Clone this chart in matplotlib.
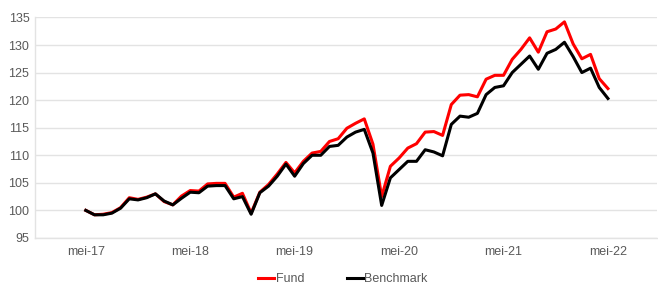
import matplotlib
matplotlib.use("Agg")
from matplotlib import pyplot as plt

plt.rcParams['font.family'] = ['Liberation Sans Narrow', 'Liberation Sans', 'DejaVu Sans']

# maandelijkse waarden, mei-17 t/m mei-22
fund = [100.0, 99.2, 99.3, 99.6, 100.5, 102.3, 102.0, 102.4, 103.0, 101.6,
        101.0, 102.6, 103.6, 103.5, 104.8, 104.9, 104.9, 102.4, 103.1, 99.5,
        103.3, 104.7, 106.6, 108.7, 106.8, 108.9, 110.4, 110.7, 112.5, 113.0,
        114.9, 115.8, 116.6, 112.0, 102.5, 108.0, 109.5, 111.3, 112.1, 114.2,
        114.3, 113.6, 119.2, 120.9, 121.0, 120.6, 123.8, 124.5, 124.5, 127.4,
        129.2, 131.3, 128.7, 132.4, 132.9, 134.2, 130.2, 127.5, 128.3, 123.9,
        122.1]
benchmark = [100.0, 99.2, 99.2, 99.5, 100.4, 102.1, 101.9, 102.3, 103.0, 101.7,
             101.0, 102.2, 103.3, 103.2, 104.4, 104.5, 104.5, 102.1, 102.5, 99.3,
             103.2, 104.4, 106.2, 108.4, 106.2, 108.5, 110.0, 110.0, 111.6, 111.8,
             113.3, 114.2, 114.7, 110.4, 100.9, 105.9, 107.4, 108.9, 108.9, 111.0,
             110.6, 109.9, 115.6, 117.1, 116.9, 117.6, 121.0, 122.3, 122.6, 125.0,
             126.5, 128.0, 125.6, 128.5, 129.2, 130.5, 127.9, 125.0, 125.8, 122.3,
             120.3]
tick_labels = ['mei-17', 'mei-18', 'mei-19', 'mei-20', 'mei-21', 'mei-22']
months = list(range(len(fund)))

fig = plt.figure(figsize=(6.58, 2.86), dpi=100)
ax = fig.add_axes([0.053, 0.168, 0.945, 0.771])

ax.plot(months, fund, color='#ff0000', lw=2.2, label='Fund')
ax.plot(months, benchmark, color='#000000', lw=2.2, label='Benchmark')

ax.set_ylim(95, 135)
ax.set_yticks(range(95, 136, 5))
ax.set_xlim(-5.85, 65.6)
ax.set_xticks(range(0, 61, 12))
ax.set_xticklabels(tick_labels)

ax.grid(axis='y', color='#e3e3e3', lw=1)
ax.set_axisbelow(True)
for s in ['top', 'right']:
    ax.spines[s].set_visible(False)
for s in ['left', 'bottom']:
    ax.spines[s].set_color('#e3e3e3')
    ax.spines[s].set_linewidth(1)
ax.tick_params(length=0, labelsize=9, colors='#595959', pad=4)
ax.tick_params(axis='x', pad=6)

leg = fig.legend(loc='lower center', bbox_to_anchor=(0.521, -0.036), ncol=2, frameon=False,
                 fontsize=9, handlelength=1.3, handletextpad=0.1, columnspacing=3.4,
                 labelcolor='#595959')

fig.savefig('out.png', dpi=100)
